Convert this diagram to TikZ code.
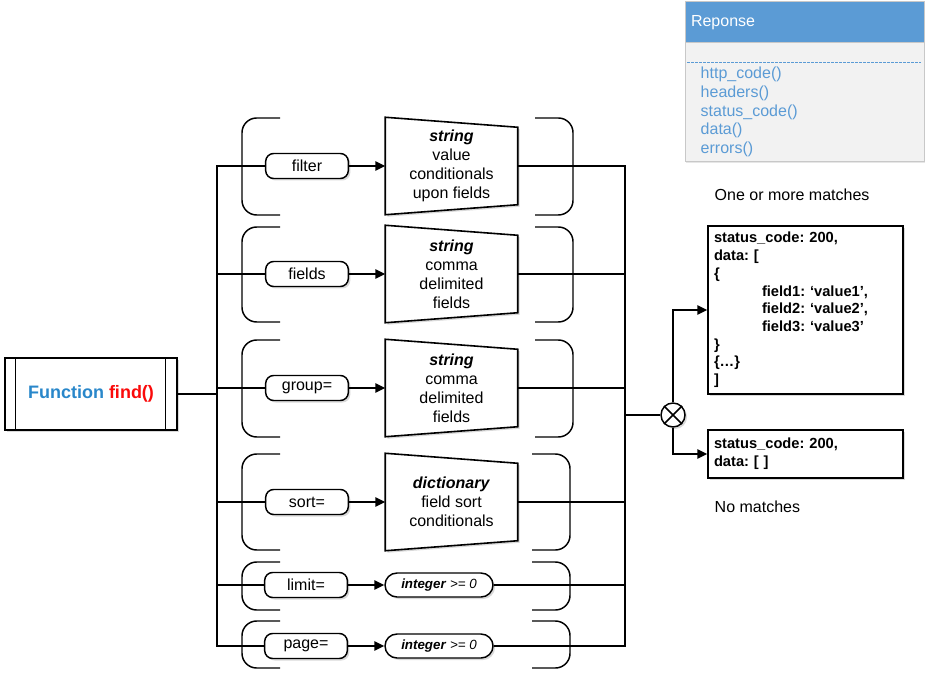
\documentclass[tikz,border=0pt]{standalone}
\usepackage{fontspec}
\setmainfont{Liberation Sans}
\usetikzlibrary{arrows.meta,shadows,backgrounds}
\definecolor{fnblue}{RGB}{41,135,202}
\definecolor{fnred}{RGB}{250,10,10}
\definecolor{hdblue}{RGB}{91,155,213}
\definecolor{rpgray}{RGB}{242,242,242}
\definecolor{rpline}{RGB}{200,200,200}
\frenchspacing

\begin{document}
\begin{tikzpicture}[x=0.75pt, y=-0.75pt, line width=1.1pt,
 shd/.style={drop shadow={shadow xshift=1.5pt, shadow yshift=-1.5pt, opacity=0.25, fill=black!60}},
 fnbox/.style={draw, fill=white, minimum width=129pt, minimum height=54pt, font=\bfseries\fontsize{13.5}{16}\selectfont, shd},
 param/.style={draw, fill=white, rounded corners=6pt, minimum width=62pt, minimum height=18.75pt, inner sep=0pt, font=\fontsize{12}{14}\selectfont, shd},
 pill/.style={draw, fill=white, rounded corners=9pt, minimum width=81pt, minimum height=18pt, inner sep=0pt, font=\fontsize{10}{12}\selectfont, shd},
 trapt/.style={minimum width=98.25pt, minimum height=72pt, inner sep=0pt, align=center, font=\fontsize{12}{14.25}\selectfont},
 trap/.style={draw, fill=white, line width=1.2pt, line join=miter, shd},
 brak/.style={rounded corners=11pt},
 arr/.style={-{Triangle[length=7.5pt, width=7pt]}},
 mix/.style={circle, draw, fill=white, minimum size=18pt, inner sep=0pt, shd},
 res/.style={draw, fill=white, align=left, inner xsep=4.5pt, text width=137.25pt, font=\bfseries\fontsize{11}{13.3}\selectfont, shd},
 note/.style={inner sep=0pt, font=\fontsize{12}{14}\selectfont},
 rpbox/.style={draw=rpline, fill=rpgray, line width=0.75pt, minimum width=179.25pt, minimum height=120pt, drop shadow={shadow xshift=1pt, shadow yshift=-1pt, opacity=0.2}},
 rphead/.style={draw=rpline, fill=hdblue, line width=0.75pt, minimum width=179.25pt, minimum height=30.75pt, inner xsep=4.5pt, text width=170.25pt, align=left, text=white, font=\fontsize{12}{14}\selectfont},
 rpitems/.style={inner sep=0pt, align=left, text=hdblue, font=\fontsize{12}{14}\selectfont},
 rpdash/.style={draw=hdblue, line width=0.75pt, dashed, dash pattern=on 2pt off 1pt}]
 \useasboundingbox (0,0) rectangle (930,680);

 \draw[brak] (280,118) -| (242,215) -- (280,215);
 \draw[brak] (535,118) -| (573,215) -- (535,215);
 \draw[brak] (280,227) -| (242,322) -- (280,322);
 \draw[brak] (535,227) -| (573,322) -- (535,322);
 \draw[brak] (280,340) -| (242,437) -- (280,437);
 \draw[brak] (535,340) -| (573,437) -- (535,437);
 \draw[brak] (280,454) -| (242,550) -- (280,550);
 \draw[brak] (532,454) -| (570,550) -- (532,550);
 \draw[brak] (280,562) -| (242,610) -- (280,610);
 \draw[brak] (532,562) -| (570,610) -- (532,610);
 \draw[brak] (280,621) -| (242,668) -- (280,668);
 \draw[brak] (532,621) -| (570,668) -- (532,668);

 \node[fnbox] (fn) at (91,394) {\textcolor{fnblue}{Function} \textcolor{fnred}{find()}};
 \draw ([xshift=8.25pt]fn.north west) -- ([xshift=8.25pt]fn.south west);
 \draw ([xshift=-9pt]fn.north east) -- ([xshift=-9pt]fn.south east);

 \node[param] (filter) at (307,166) {filter};
 \node[param] (fields) at (307,274) {fields};
 \node[param] (group) at (307,388) {group=};
 \node[param] (sort) at (307,502) {sort=};
 \node[param] (limit) at (306,585) {limit=};
 \node[param] (page) at (306,646) {page=};

 \node[trapt] (filterT) at (451.5,166) {\textbf{\textit{string}}\\value\\conditionals\\upon fields};
 \node[trapt] (fieldsT) at (451.5,274) {\textbf{\textit{string}}\\comma\\delimited\\fields};
 \node[trapt] (groupT) at (451.5,388) {\textbf{\textit{string}}\\comma\\delimited\\fields};
 \node[trapt] (sortT) at (451.5,502) {\textbf{\textit{dictionary}}\\field sort\\conditionals};
 \node[pill] (limitV) at (439,585) {\textbf{\textit{integer}} \textit{>= 0}};
 \node[pill] (pageV) at (439,646) {\textbf{\textit{integer}} \textit{>= 0}};

 \begin{scope}[on background layer]
 \draw[trap] (filterT.north west) -- ([yshift=-7.5pt]filterT.north east) -- ([yshift=7.5pt]filterT.south east) -- (filterT.south west) -- cycle;
 \draw[trap] (fieldsT.north west) -- ([yshift=-7.5pt]fieldsT.north east) -- ([yshift=7.5pt]fieldsT.south east) -- (fieldsT.south west) -- cycle;
 \draw[trap] (groupT.north west) -- ([yshift=-7.5pt]groupT.north east) -- ([yshift=7.5pt]groupT.south east) -- (groupT.south west) -- cycle;
 \draw[trap] (sortT.north west) -- ([yshift=-7.5pt]sortT.north east) -- ([yshift=7.5pt]sortT.south east) -- (sortT.south west) -- cycle;
 \end{scope}

 \coordinate (lbus) at (217,394);
 \coordinate (rbus) at (625,394);

 \draw (fn) -- (fn -| lbus);
 \draw (filter.west) -- (filter.west -| lbus) -- (page.west -| lbus) -- (page.west);
 \draw (fields.west -| lbus) -- (fields.west);
 \draw (group.west -| lbus) -- (group.west);
 \draw (sort.west -| lbus) -- (sort.west);
 \draw (limit.west -| lbus) -- (limit.west);

 \draw[arr] (filter) -- (filterT);
 \draw[arr] (fields) -- (fieldsT);
 \draw[arr] (group) -- (groupT);
 \draw[arr] (sort) -- (sortT);
 \draw[arr] (limit) -- (limitV);
 \draw[arr] (page) -- (pageV);

 \draw (filterT.east) -- (filterT.east -| rbus) -- (pageV.east -| rbus) -- (pageV.east);
 \draw (fieldsT.east) -- (fieldsT.east -| rbus);
 \draw (groupT.east) -- (groupT.east -| rbus);
 \draw (sortT.east) -- (sortT.east -| rbus);
 \draw (limitV.east) -- (limitV.east -| rbus);

 \node[mix] (mx) at (673,415) {};
 \draw (mx.north west) -- (mx.south east) (mx.north east) -- (mx.south west);
 \draw (mx.west -| rbus) -- (mx.west);

 \node[res, minimum height=126pt] (res1) at (805.5,310) {status\_code: 200,\\data: [\\\{\\\hspace*{36pt}field1: ‘value1’,\\\hspace*{36pt}field2: ‘value2’,\\\hspace*{36pt}field3: ‘value3’\\\}\\\{…\}\\]};
 \node[res, minimum height=36pt] (res2) at (805.5,454) {status\_code: 200,\\data: [ ]};
 \draw[arr] (mx.north) |- (res1.west);
 \draw[arr] (mx.south) |- (res2.west);

 \node[note, anchor=west] (more) at (714,195) {One or more matches};
 \node[note, anchor=west] (none) at (714,507) {No matches};

 \node[rpbox] (rp) at (804.5,82) {};
 \node[rphead, anchor=north] (rph) at (rp.north) {Reponse};
 \draw[rpdash] (687,63) -- (921,63);
 \node[rpitems, anchor=west] (rpi) at (700,112) {http\_code()\\headers()\\status\_code()\\data()\\errors()};
\end{tikzpicture}
\end{document}
